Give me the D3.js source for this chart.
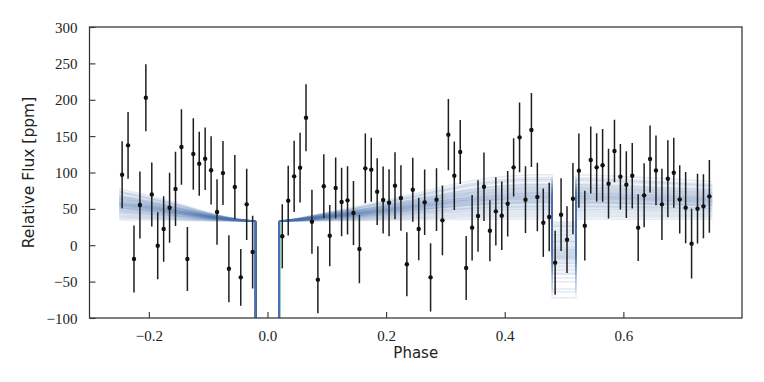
<!DOCTYPE html>
<html>
<head>
<meta charset="utf-8">
<script src="https://cdn.jsdelivr.net/npm/d3@7"></script>
<style>
  html, body { margin: 0; padding: 0; background: #fff; }
  svg { display: block; }
</style>
</head>
<body>
<svg id="chart" width="764" height="382"></svg>
<script>
// ---------------- data ----------------
const phases = [
  -0.245, -0.235, -0.225, -0.215, -0.205, -0.195, -0.185, -0.175, -0.165, -0.155,
  -0.145, -0.135, -0.125, -0.115, -0.105, -0.095, -0.085, -0.075, -0.065, -0.055,
  -0.045, -0.035, -0.025,
  0.025, 0.035, 0.045, 0.055, 0.065, 0.075, 0.085, 0.095, 0.105, 0.115,
  0.125, 0.135, 0.145, 0.155, 0.165, 0.175, 0.185, 0.195, 0.205, 0.215,
  0.225, 0.235, 0.245, 0.255, 0.265, 0.275, 0.285, 0.295, 0.305, 0.315,
  0.325, 0.335, 0.345, 0.355, 0.365, 0.375, 0.385, 0.395, 0.405, 0.415,
  0.425, 0.435, 0.445, 0.455, 0.465, 0.475, 0.485, 0.495, 0.505, 0.515,
  0.525, 0.535, 0.545, 0.555, 0.565, 0.575, 0.585, 0.595, 0.605, 0.615,
  0.625, 0.635, 0.645, 0.655, 0.665, 0.675, 0.685, 0.695, 0.705, 0.715,
  0.725, 0.735, 0.745
];
const fluxValues = [
  97.0, 137.3, -18.9, 55.3, 202.8, 69.9, -0.6, 22.3, 51.6, 77.4,
  135.0, -18.9, 125.4, 112.1, 119.0, 103.0, 45.7, 99.2, -32.2, 80.1,
  -44.1, 56.2, -9.3,
  12.3, 61.3, 94.7, 106.6, 175.3, 32.4, -47.3, 81.0, 13.2, 78.7,
  59.5, 61.7, 44.3, -5.2, 105.7, 103.9, 73.7, 62.2, 58.5, 81.9,
  64.9, -26.2, 76.3, 22.3, 59.0, -44.1, 62.7, 34.2, 152.0, 95.6,
  128.2, -31.3, 24.2, 40.2, 80.5, 20.0, 46.6, 40.6, 57.1, 107.1,
  148.3, 62.7, 158.4, 66.3, 31.0, 38.8, -23.9, 42.0, 7.7, 64.0,
  102.5, 26.9, 117.2, 107.1, 109.9, 84.7, 129.6, 94.3, 83.3, 95.6,
  24.2, 68.6, 118.5, 102.9, 56.2, 91.5, 99.7, 63.1, 51.6, 2.2,
  50.3, 53.5, 67.2
];
const fluxErrors = [
  46, 46, 46, 46, 46, 44, 46, 45, 48, 51,
  52, 44, 49, 44, 43, 47, 45, 44, 46, 44,
  39, 49, 50,
  44, 48, 49, 48, 46, 44, 46, 44, 42, 42,
  47, 47, 44, 47, 48, 44, 46, 46, 46, 46,
  45, 44, 44, 43, 45, 47, 43, 48, 49, 47,
  44, 44, 45, 49, 47, 42, 47, 47, 45, 40,
  48, 46, 51, 47, 47, 47, 44, 50, 46, 49,
  51, 48, 46, 47, 50, 48, 43, 45, 46, 45,
  46, 44, 46, 48, 49, 53, 48, 47, 49, 48,
  48, 44, 50
];

// model samples: flux level at transit edges, rise at phase of peak, eclipse level
const modelBase = 33;
const transitFloor = -3000;
const preKeys = [-0.25, -0.2, -0.15, -0.1, -0.05, -0.02];
const preProfile = [0.70, 0.55, 0.38, 0.19, 0.05, 0.0];
const postKeys = [0.02, 0.05, 0.1, 0.15, 0.2, 0.25, 0.3, 0.35, 0.4, 0.45, 0.48];
const postProfile = [0.0, 0.06, 0.19, 0.31, 0.45, 0.6, 0.75, 0.88, 0.96, 1.0, 1.0];
const eclipseKeys = [0.48, 0.52];
const postEclKeys = [0.52, 0.55, 0.6, 0.65, 0.7, 0.75];
const postEclProfile = [1.0, 0.99, 0.96, 0.93, 0.89, 0.85];
const sampleRise = [
  33, 12, 45, 28, 60, 21, 38, 50, 8, 31, 42, 26, 55, 17, 36, 47, 24, 3, 40, 30,
  64, 19, 35, 52, 14, 29, 44, 33, 57, 22, 39, 48, 10, 27, 41, 34, 25, 37, 50, 31,
  43, 20, 32, 46, 16, 35, 58, 26, 38, 6
];
const sampleEclipse = [
  -8, 15, -30, 2, -45, 25, -12, -22, 30, -5, -18, 8, -38, 20, -10, -28, 5, 32, -15, -2,
  -72, 12, -20, -35, 22, 0, -25, -9, -60, 10, -14, -40, 28, -6, -16, -11, 4, -19, -50, -3,
  -24, 14, -7, -33, 18, -13, -64, 6, -17, 26
];

const xTicks = [-0.2, 0.0, 0.2, 0.4, 0.6];
const xTickLabels = ["\u22120.2", "0.0", "0.2", "0.4", "0.6"];
const yTicks = [-100, -50, 0, 50, 100, 150, 200, 250, 300];
const yTickLabels = ["\u2212100", "\u221250", "0", "50", "100", "150", "200", "250", "300"];

// ---------------- drawing ----------------
const svg = d3.select("#chart");
const plotL = 89.5, plotR = 742, plotT = 27, plotB = 318;

const x = d3.scaleLinear().domain([-0.3, 0.8]).range([plotL, plotR]);
const y = d3.scaleLinear().domain([-100, 300]).range([plotB, plotT]);

svg.append("defs").append("clipPath").attr("id", "clip")
  .append("rect").attr("x", plotL).attr("y", plotT)
  .attr("width", plotR - plotL).attr("height", plotB - plotT);

const smooth = d3.line().x(d => x(d[0])).y(d => y(d[1])).curve(d3.curveMonotoneX);
const straight = d3.line().x(d => x(d[0])).y(d => y(d[1]));

const modelG = svg.append("g").attr("clip-path", "url(#clip)");
sampleRise.forEach((r, i) => {
  const e = sampleEclipse[i];
  const pre = preKeys.map((p, k) => [p, modelBase + r * preProfile[k]]);
  const post = postKeys.map((p, k) => [p, modelBase + r * postProfile[k]]);
  const postE = postEclKeys.map((p, k) => [p, modelBase + r * postEclProfile[k]]);
  const transit = [[-0.02, modelBase], [-0.02, transitFloor], [0.02, transitFloor], [0.02, modelBase]];
  const ecl = [[eclipseKeys[0], post[post.length - 1][1]], [eclipseKeys[0], e],
               [eclipseKeys[1], e], [eclipseKeys[1], postE[0][1]]];
  const d = smooth(pre) + straight(transit) + smooth(post) + straight(ecl) + smooth(postE);
  modelG.append("path")
    .attr("d", d)
    .attr("fill", "none")
    .attr("stroke", "#4C72B0")
    .attr("stroke-opacity", 0.15)
    .attr("stroke-width", 1.5);
});

// data points with error bars
const dataG = svg.append("g").attr("clip-path", "url(#clip)");
phases.forEach((p, i) => {
  const v = fluxValues[i], err = fluxErrors[i];
  dataG.append("line")
    .attr("x1", x(p)).attr("x2", x(p))
    .attr("y1", y(v - err)).attr("y2", y(v + err))
    .attr("stroke", "#1f1f1f").attr("stroke-width", 1.5);
  dataG.append("circle")
    .attr("cx", x(p)).attr("cy", y(v)).attr("r", 2.2)
    .attr("fill", "#111");
});

// frame
svg.append("rect")
  .attr("x", plotL).attr("y", plotT)
  .attr("width", plotR - plotL).attr("height", plotB - plotT)
  .attr("fill", "none").attr("stroke", "#333").attr("stroke-width", 1.25);

// axes (ticks inward)
const xAxis = d3.axisBottom(x).tickValues(xTicks)
  .tickFormat((d, i) => xTickLabels[i]).tickSizeInner(-6).tickSizeOuter(0).tickPadding(12);
const gx = svg.append("g").attr("transform", `translate(0,${plotB})`).call(xAxis);
const yAxis = d3.axisLeft(y).tickValues(yTicks)
  .tickFormat((d, i) => yTickLabels[i]).tickSizeInner(-6).tickSizeOuter(0).tickPadding(12);
const gy = svg.append("g").attr("transform", `translate(${plotL},0)`).call(yAxis);

[gx, gy].forEach(g => {
  g.select(".domain").remove();
  g.selectAll(".tick line").attr("stroke", "#333").attr("stroke-width", 1.1);
  g.selectAll(".tick text")
    .attr("fill", "#222")
    .style("font-family", "'Liberation Serif', 'DejaVu Serif', serif")
    .style("font-size", "15px");
});
gy.selectAll(".tick text").attr("dy", "0.34em");

// axis labels
svg.append("text")
  .attr("x", (plotL + plotR) / 2).attr("y", 358)
  .attr("text-anchor", "middle")
  .style("font-family", "'DejaVu Sans', sans-serif")
  .style("font-size", "15px").attr("fill", "#222")
  .text("Phase");
svg.append("text")
  .attr("transform", `translate(34,${(plotT + plotB) / 2}) rotate(-90)`)
  .attr("text-anchor", "middle")
  .style("font-family", "'DejaVu Sans', sans-serif")
  .style("font-size", "15.5px").attr("fill", "#222")
  .text("Relative Flux [ppm]");
</script>
</body>
</html>
